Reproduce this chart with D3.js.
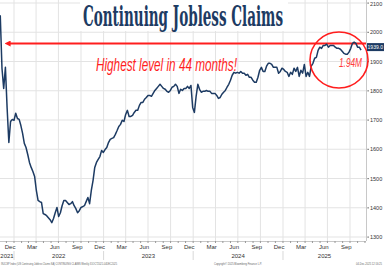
<!DOCTYPE html>
<html>
<head>
<meta charset="utf-8">
<script src="https://cdn.jsdelivr.net/npm/d3@7"></script>
<style>
  body { margin: 0; background: #fff; }
  svg { display: block; font-family: "Liberation Sans", Arial, sans-serif; }
</style>
</head>
<body>
<svg id="chart"></svg>
<script>
const w = 384;
const h = 268;

// weekly continuing claims (thousands), first week ending 2021-11-06
const firstWeek = "2021-11-06";
const claims = [
  2058, 1877, 1808, 1880, 1740, 1623, 1695, 1702, 1699, 1723,
  1705, 1702, 1681, 1654, 1620, 1606, 1582, 1555, 1538, 1524,
  1507, 1459, 1425, 1421, 1418, 1380, 1377, 1373, 1366, 1359,
  1349, 1363, 1383, 1401, 1370, 1383, 1407, 1425, 1425, 1418,
  1411, 1414, 1421, 1407, 1397, 1383, 1390, 1401, 1404, 1407,
  1421, 1435, 1414, 1459, 1493, 1538, 1555, 1565, 1575, 1596,
  1589, 1599, 1606, 1623, 1634, 1637, 1640, 1651, 1664, 1678,
  1685, 1699, 1695, 1719, 1733, 1712, 1712, 1716, 1726, 1733,
  1733, 1750, 1760, 1760, 1771, 1777, 1784, 1784, 1781, 1791,
  1801, 1808, 1815, 1822, 1815, 1808, 1805, 1798, 1795, 1801,
  1812, 1815, 1822, 1815, 1791, 1805, 1801, 1808, 1808, 1815,
  1808, 1818, 1743, 1726, 1781, 1822, 1805, 1795, 1798, 1798,
  1801, 1798, 1798, 1791, 1791, 1791, 1784, 1774, 1777, 1788,
  1795, 1801, 1812, 1822, 1836, 1853, 1863, 1860, 1863, 1860,
  1866, 1860, 1860, 1853, 1856, 1846, 1846, 1836, 1829, 1829,
  1846, 1870, 1880, 1866, 1866, 1884, 1894, 1894, 1890, 1880,
  1880, 1880, 1860, 1866, 1877, 1873, 1866, 1863, 1849, 1863,
  1856, 1877, 1866, 1880, 1849, 1870, 1860, 1890, 1849, 1863,
  1849, 1884, 1894, 1911, 1914, 1938, 1949, 1945, 1955, 1955,
  1959, 1949, 1955, 1955, 1955, 1949, 1945, 1945, 1942, 1935,
  1928, 1925, 1925, 1932, 1945, 1962, 1966, 1962, 1949, 1949, 1939
];
const yTicks = [1300, 1400, 1500, 1600, 1700, 1800, 1900, 2000, 2100];
const monthLabels = ["Dec", "Mar", "Jun", "Sep"];
const years = [2021, 2022, 2023, 2024, 2025];
const highLevel = 1939;
const lastLabel = "1939.0";
const titleText = "Continuing Jobless Claims";
const noteText = "Highest level in 44 months!";
const circleText = "1.94M";
const footLeft = "INJCSP Index (US Continuing Jobless Claims SA) CONTINUING CLAIMS Weekly 31OCT2021-04DEC2025";
const footMid = "Copyright\u00a9 2025 Bloomberg Finance L.P.";
const footRight = "04-Dec-2025 12:16:25";

const parse = d3.timeParse("%Y-%m-%d");
const start = parse(firstWeek);
const data = claims.map((v, i) => ({ date: d3.timeWeek.offset(start, i), value: v }));

const plotRight = 366;
const plotBottom = 241;

const x = d3.scaleTime()
  .domain([new Date(2022, 0, 1), new Date(2025, 9, 1)])
  .range([14, 350]);
const y = d3.scaleLinear()
  .domain([1300, 2100])
  .range([237, 3]);

const svg = d3.select("#chart")
  .attr("width", w)
  .attr("height", h)
  .attr("viewBox", [0, 0, w, h]);

const gridColor = "#e3e3e3";
const navy = "#1d3b63";
const red = "#ff1e1e";

// horizontal grid
svg.append("g")
  .selectAll("line")
  .data(yTicks)
  .join("line")
  .attr("x1", 0).attr("x2", plotRight)
  .attr("y1", d => y(d)).attr("y2", d => y(d))
  .attr("stroke", gridColor).attr("stroke-width", 1);

// vertical grid at quarter boundaries
const xMin = x.invert(0), xMax = x.invert(plotRight);
const quarterLines = d3.timeMonth.range(xMin, xMax).filter(d => d.getMonth() % 3 === 0);
svg.append("g")
  .selectAll("line")
  .data(quarterLines)
  .join("line")
  .attr("x1", d => x(d)).attr("x2", d => x(d))
  .attr("y1", 0).attr("y2", plotBottom)
  .attr("stroke", gridColor).attr("stroke-width", 1);

// title with white backing
svg.append("rect")
  .attr("x", 80).attr("y", 0).attr("width", 208).attr("height", 31)
  .attr("fill", "#fff");
svg.append("text")
  .attr("x", 83).attr("y", 26)
  .attr("font-family", "'DejaVu Serif', serif")
  .attr("font-weight", "bold")
  .attr("font-size", 27)
  .attr("textLength", 200)
  .attr("lengthAdjust", "spacingAndGlyphs")
  .attr("fill", navy)
  .text(titleText);

// axes lines
svg.append("line")
  .attr("x1", plotRight + 0.5).attr("x2", plotRight + 0.5)
  .attr("y1", 0).attr("y2", plotBottom)
  .attr("stroke", "#c8c8c8");
svg.append("line")
  .attr("x1", 0).attr("x2", plotRight)
  .attr("y1", plotBottom + 0.5).attr("y2", plotBottom + 0.5)
  .attr("stroke", "#c8c8c8");

// month ticks on bottom axis
svg.append("g")
  .selectAll("line")
  .data(d3.timeMonth.range(xMin, xMax))
  .join("line")
  .attr("x1", d => x(d)).attr("x2", d => x(d))
  .attr("y1", plotBottom).attr("y2", plotBottom + 2)
  .attr("stroke", "#9a9a9a");

// month labels centred mid-month
const fmtMonth = d3.timeFormat("%b");
const midMonth = d => new Date(d.getFullYear(), d.getMonth(), 16);
const labelMonths = d3.timeMonth.range(d3.timeMonth.floor(xMin), xMax)
  .filter(d => monthLabels.includes(fmtMonth(d)) && x(midMonth(d)) < plotRight - 6);
svg.append("g")
  .selectAll("text")
  .data(labelMonths)
  .join("text")
  .attr("x", d => x(midMonth(d)))
  .attr("y", 249)
  .attr("text-anchor", "middle")
  .attr("font-size", 6)
  .attr("fill", "#333")
  .text(d => fmtMonth(d));

// year labels and separators
const yearSpan = yr => [Math.max(0, x(new Date(yr, 0, 1))), Math.min(plotRight, x(new Date(yr + 1, 0, 1)))];
svg.append("g")
  .selectAll("text")
  .data(years)
  .join("text")
  .attr("x", d => Math.max(7, (yearSpan(d)[0] + yearSpan(d)[1]) / 2))
  .attr("y", 258)
  .attr("text-anchor", "middle")
  .attr("font-size", 6)
  .attr("fill", "#333")
  .text(d => d);
svg.append("g")
  .selectAll("line")
  .data(years.slice(1))
  .join("line")
  .attr("x1", d => x(new Date(d, 0, 1))).attr("x2", d => x(new Date(d, 0, 1)))
  .attr("y1", 251).attr("y2", 260)
  .attr("stroke", "#d8d8d8");

// y labels on the right
const yAxis = svg.append("g");
yAxis.selectAll("rect")
  .data(yTicks)
  .join("rect")
  .attr("x", plotRight + 1.5).attr("y", d => y(d) - 0.5)
  .attr("width", 1.2).attr("height", 1.2)
  .attr("fill", "#555");
yAxis.selectAll("text")
  .data(yTicks.filter(d => d < 2100))
  .join("text")
  .attr("x", plotRight + 4)
  .attr("y", d => y(d) + 2)
  .attr("font-size", 5.5)
  .attr("fill", "#333")
  .text(d => d);
yAxis.append("text")
  .attr("x", plotRight + 4)
  .attr("y", y(2100) + 3)
  .attr("font-size", 5.5)
  .attr("fill", "#333")
  .text(yTicks[yTicks.length - 1]);

// red arrow line
svg.append("defs").append("marker")
  .attr("id", "arrow")
  .attr("viewBox", "0 0 10 10")
  .attr("refX", 1).attr("refY", 5)
  .attr("markerWidth", 3).attr("markerHeight", 3)
  .attr("orient", "auto-start-reverse")
  .append("path")
  .attr("d", "M0,0 L10,5 L0,10 z")
  .attr("fill", red);
svg.append("line")
  .attr("x1", 10).attr("x2", plotRight)
  .attr("y1", 43.5).attr("y2", 43.5)
  .attr("stroke", red).attr("stroke-width", 2)
  .attr("marker-start", "url(#arrow)");

// series line
const line = d3.line()
  .x(d => x(d.date))
  .y(d => y(d.value));
svg.append("path")
  .datum(data)
  .attr("d", line)
  .attr("fill", "none")
  .attr("stroke", navy)
  .attr("stroke-width", 1.5)
  .attr("stroke-linejoin", "round");

// annotation text
svg.append("text")
  .attr("x", 96).attr("y", 71)
  .attr("font-style", "italic")
  .attr("font-size", 19)
  .attr("textLength", 141)
  .attr("lengthAdjust", "spacingAndGlyphs")
  .attr("fill", red)
  .text(noteText);

// circle around recent highs
svg.append("ellipse")
  .attr("cx", 339).attr("cy", 60)
  .attr("rx", 29).attr("ry", 28)
  .attr("fill", "none")
  .attr("stroke", red).attr("stroke-width", 1.6);
svg.append("text")
  .attr("x", 339).attr("y", 67)
  .attr("font-style", "italic")
  .attr("font-size", 13)
  .attr("textLength", 23)
  .attr("lengthAdjust", "spacingAndGlyphs")
  .attr("fill", "#ff3a3a")
  .text(circleText);

// last value tag
const lastY = y(highLevel) - 3;
svg.append("rect")
  .attr("x", plotRight + 1).attr("y", lastY - 4)
  .attr("width", w - plotRight - 1).attr("height", 8)
  .attr("fill", navy);
svg.append("text")
  .attr("x", plotRight + 1.5).attr("y", lastY + 2)
  .attr("font-size", 5.5)
  .attr("textLength", 15.5)
  .attr("lengthAdjust", "spacingAndGlyphs")
  .attr("fill", "#fff")
  .text(lastLabel);

// footer
const foot = svg.append("g").attr("font-size", 3.6).attr("fill", "#666");
foot.append("text").attr("x", 1).attr("y", 265).attr("textLength", 116).attr("lengthAdjust", "spacingAndGlyphs").text(footLeft);
foot.append("text").attr("x", 214).attr("y", 265).attr("textLength", 48).attr("lengthAdjust", "spacingAndGlyphs").text(footMid);
foot.append("text").attr("x", 356).attr("y", 265).attr("textLength", 26).attr("lengthAdjust", "spacingAndGlyphs").text(footRight);
</script>
</body>
</html>
